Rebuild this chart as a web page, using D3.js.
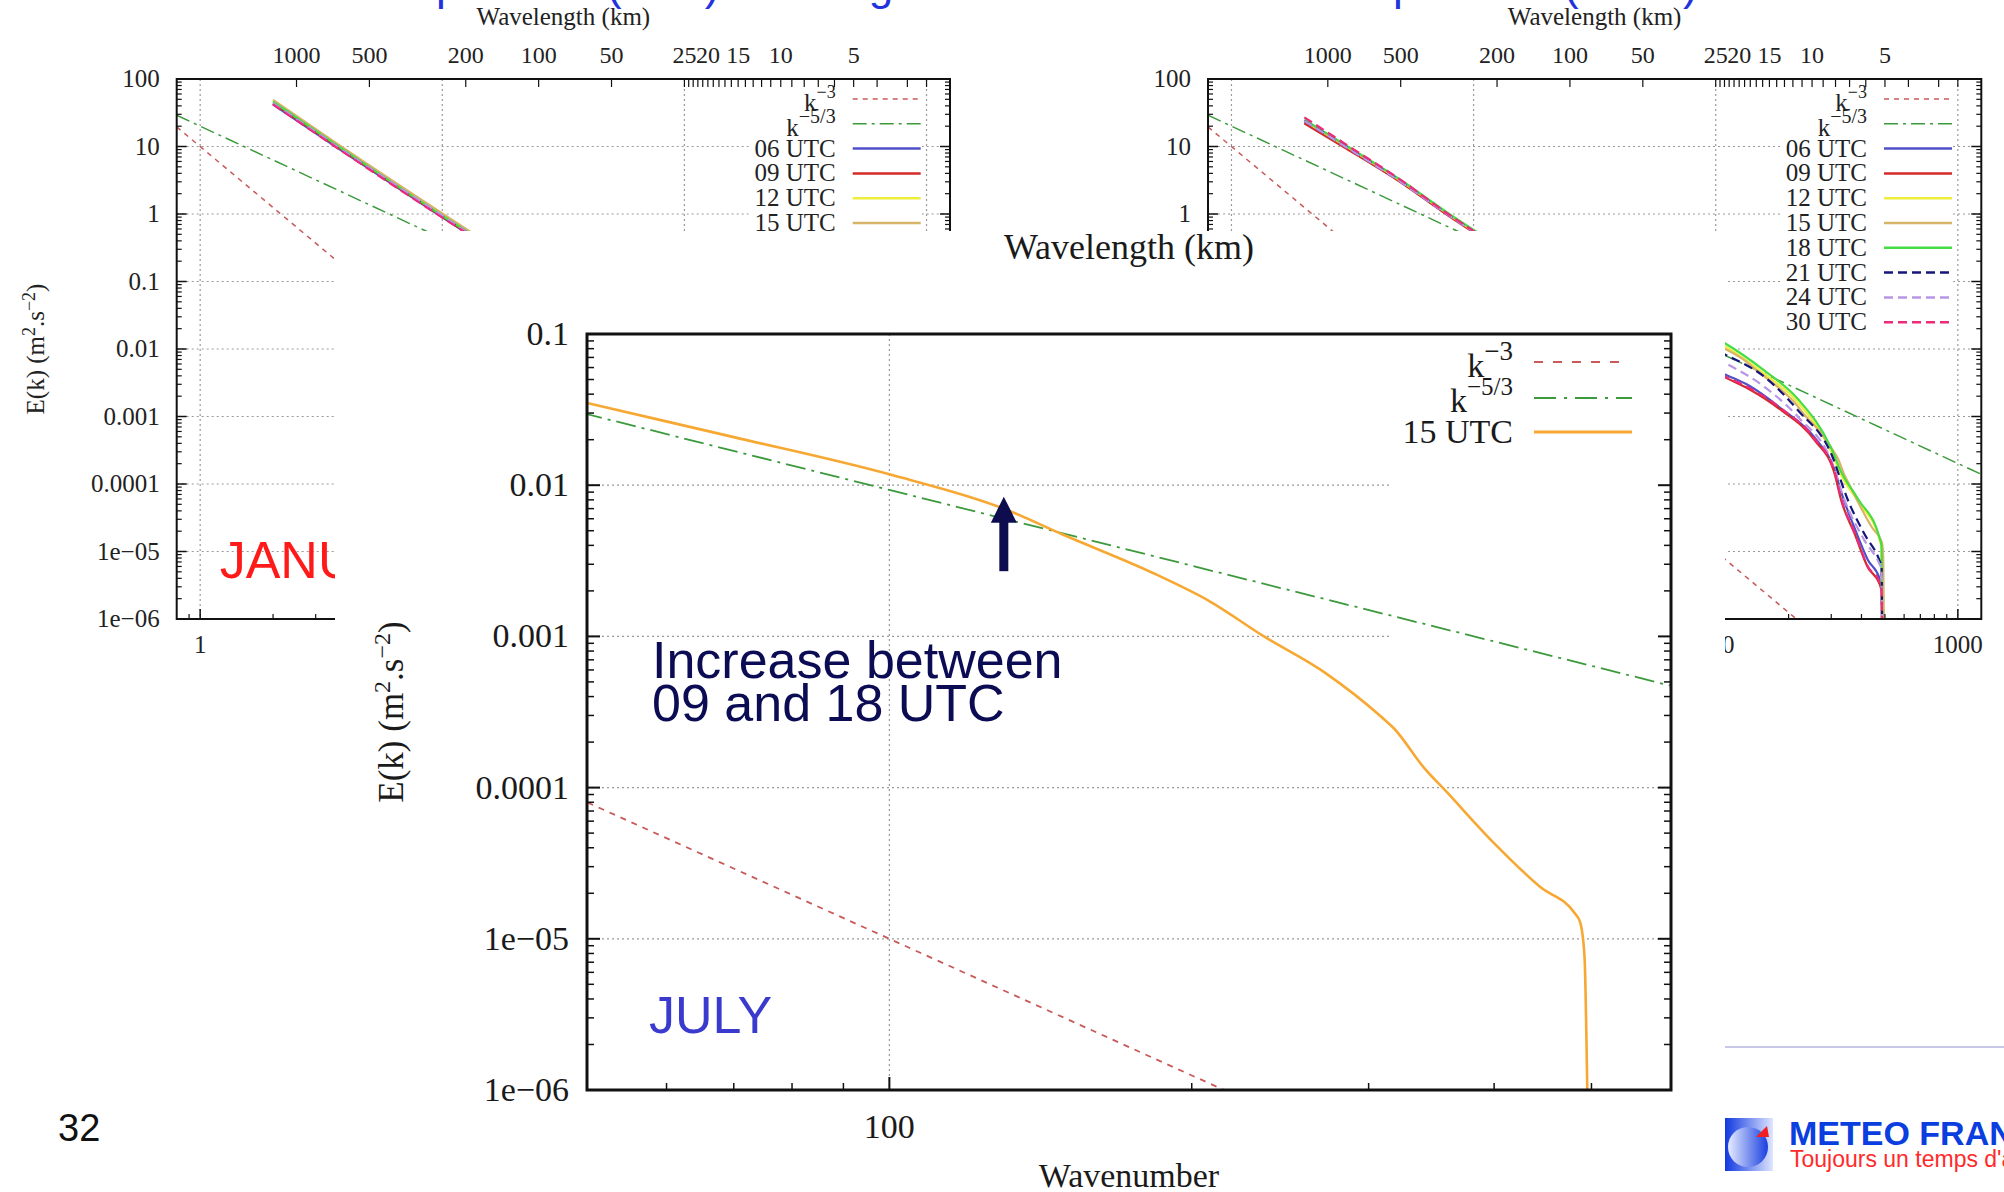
<!DOCTYPE html>
<html>
<head>
<meta charset="utf-8">
<script src="https://cdn.jsdelivr.net/npm/d3@7"></script>
<style>
  html, body { margin: 0; padding: 0; background: #fff; }
  svg { display: block; }
</style>
</head>
<body>
<svg id="slide" width="2004" height="1192"></svg>
<script>
// ---------------- data ----------------
const energyDecades = [1e-6, 1e-5, 1e-4, 1e-3, 1e-2, 1e-1, 1, 10, 100];
const energyDecadeLabels = ["1e−06", "1e−05", "0.0001", "0.001", "0.01", "0.1", "1", "10", "100"];
const panelWavenumbers = [1, 10, 100, 1000];
const panelWavenumberLabels = ["1", "10", "100", "1000"];
const wavelengthMajor = [1000, 500, 200, 100, 50, 25, 20, 15, 10, 5];
const wavelengthMajorLabels = ["1000", "500", "200", "100", "50", "25", "20", "15", "10", "5"];
const wavelengthMinor = [24, 23, 22, 21, 19, 18, 17, 16, 14, 13, 12, 11, 9, 8, 7, 6, 4, 3, 2.5];
const domainLengthKm = 2500;          // wavelength (km) = domainLengthKm / wavenumber
const utcNames = ["06 UTC", "09 UTC", "12 UTC", "15 UTC", "18 UTC", "21 UTC", "24 UTC", "30 UTC"];

// reference slopes, [wavenumber, E(k)]
const slopeMinus3 = [[0.8, 19.5], [100, 1e-5], [1250, 5.1e-9]];
const slopeMinus53 = [[0.8, 29.0], [100, 0.0093], [1250, 1.39e-4]];

// January spectra (large-scale end)
const janK = [2, 3.7, 9.75, 16];
const jan06 = [42, 9.5, 0.95, 0.30];
const jan09 = [44, 9.8, 0.97, 0.30];
const jan12 = [48, 10.5, 1.05, 0.33];
const jan15 = [49, 10.8, 1.08, 0.34];
const jan18 = [46, 10.2, 1.00, 0.32];
const jan21 = [43, 9.7, 0.98, 0.31];
const jan24 = [44, 9.9, 1.00, 0.31];
const jan30 = [42, 9.4, 0.94, 0.30];

// July spectra, [wavenumber, E(k)]
const jul06 = [[2, 23], [3, 9.4], [5, 3.0], [7.85, 0.97], [11, 0.44], [50, 0.022], [107.8, 0.0043], [136.5, 0.0029], [187, 0.0013], [257, 4.8e-4], [310, 1.6e-4], [330, 7.5e-5], [375, 2.2e-5], [425, 7.5e-6], [475, 4.0e-6], [484, 3.0e-6], [487, 5e-7]];
const jul09 = [[2, 22], [3, 9.2], [5, 2.95], [7.85, 0.95], [11, 0.43], [50, 0.021], [107.8, 0.0039], [136.5, 0.00258], [187, 0.00123], [257, 4.4e-4], [310, 1.41e-4], [330, 5.7e-5], [375, 1.82e-5], [425, 5.8e-6], [475, 3.3e-6], [484, 2.6e-6], [487, 5e-7]];
const jul12 = [[2, 24], [3, 9.9], [5, 3.1], [7.85, 1.0], [11, 0.45], [50, 0.034], [107.8, 0.0113], [160, 0.0042], [219, 0.0016], [300, 3.0e-4], [330, 1.35e-4], [387, 5.5e-5], [475, 1.5e-5], [484, 1.1e-5], [487, 5e-7]];
const jul15 = [[2, 24], [3, 9.8], [5, 3.1], [7.85, 1.0], [11, 0.45], [50, 0.035], [70, 0.0208], [100, 0.0118], [130, 0.0070], [149, 0.0047], [185, 0.00254], [208, 0.00172], [236, 0.00100], [272, 0.00057], [309, 2.93e-4], [318, 2.46e-4], [341, 1.34e-4], [358, 9.5e-5], [399, 4.36e-5], [445, 2.19e-5], [481, 1.48e-5], [487, 1.3e-5], [492, 7.8e-6], [496, 5e-7]];
const jul18 = [[2, 25], [3, 10.2], [5, 3.2], [7.85, 1.03], [11, 0.47], [50, 0.037], [107.8, 0.0125], [160, 0.0047], [219, 0.0018], [300, 3.4e-4], [330, 1.5e-4], [387, 6.0e-5], [475, 1.6e-5], [484, 1.2e-5], [487, 5e-7]];
const jul21 = [[2, 24], [3, 9.7], [5, 3.05], [7.85, 0.98], [11, 0.44], [50, 0.028], [107.8, 0.0085], [160, 0.0038], [219, 0.00123], [300, 2.8e-4], [352, 5.7e-5], [412, 1.8e-5], [475, 7.3e-6], [484, 6.0e-6], [487, 5e-7]];
const jul24 = [[2, 24], [3, 9.6], [5, 3.0], [7.85, 0.97], [11, 0.44], [50, 0.025], [107.8, 0.0064], [160, 0.0027], [219, 9.8e-4], [300, 2.2e-4], [341, 5.7e-5], [412, 1.45e-5], [475, 6.5e-6], [484, 5.5e-6], [487, 5e-7]];
const jul30 = [[2, 27], [3, 10.5], [5, 3.2], [7.85, 1.0], [11, 0.45], [50, 0.022], [107.8, 0.0040], [136.5, 0.0027], [187, 0.0013], [257, 4.6e-4], [310, 1.5e-4], [330, 6.0e-5], [375, 1.9e-5], [425, 6.0e-6], [475, 3.5e-6], [484, 2.8e-6], [487, 5e-7]];

// zoomed July 15 UTC chart
const mainEnergyTicks = [0.1, 0.01, 0.001, 0.0001, 1e-5, 1e-6];
const mainEnergyLabels = ["0.1", "0.01", "0.001", "0.0001", "1e−05", "1e−06"];
const mainMajorK = [100];
const mainMajorKLabels = ["100"];
const mainMinorK = [60, 70, 80, 90, 200, 300, 400, 500];
const arrowK = 130, arrowFromE = 0.0027, arrowToE = 0.0084;

// ---------------- styles ----------------
const SERIF = "'Liberation Serif', 'Times New Roman', serif";
const SANS = "'Liberation Sans', Arial, sans-serif";
const utcStyles = [
  { color: "#5050c8", dash: null },
  { color: "#d42a2a", dash: null },
  { color: "#eeee3c", dash: null },
  { color: "#d8b468", dash: null },
  { color: "#44dd44", dash: null },
  { color: "#16167a", dash: "9,5" },
  { color: "#b896e6", dash: "9,5" },
  { color: "#ee2a7a", dash: "9,5" }
];
const slope3Color = "#c85a5a", slope53Color = "#3c9a3c";
const gridStyle = sel => sel.attr("stroke", "#9a9a9a").attr("stroke-width", 1.2).attr("stroke-dasharray", "2,3");

const svg = d3.select("#slide");
const defs = svg.append("defs");

function minorTicks(lo, hi) {
  const out = [];
  for (let d = Math.floor(Math.log10(lo)); d <= Math.ceil(Math.log10(hi)); d++) {
    for (let m = 2; m <= 9; m++) {
      const v = m * Math.pow(10, d);
      if (v > lo && v < hi) out.push(v);
    }
  }
  return out;
}

function supLabel(sel, base, sup, supSize, rise) {
  sel.append("tspan").text(base);
  sel.append("tspan").attr("dy", -rise).attr("font-size", supSize).text(sup);
}

// ---------------- background panels ----------------
function drawPanel(id, offset, seriesLines, monthText, monthColor) {
  const g = svg.append("g");
  const x = d3.scaleLog().domain([0.8, 1250]).range([176.7 + offset, 950 + offset]);
  const y = d3.scaleLog().domain([1e-6, 100]).range([619, 79]);
  const [x0, x1] = x.range();
  const [yb, yt] = y.range();

  // grid
  energyDecades.slice(1, -1).forEach(v => {
    g.append("line").attr("x1", x0).attr("x2", x1).attr("y1", y(v)).attr("y2", y(v)).call(gridStyle);
  });
  panelWavenumbers.forEach(k => {
    g.append("line").attr("x1", x(k)).attr("x2", x(k)).attr("y1", yt).attr("y2", yb).call(gridStyle);
  });

  // key background
  g.append("rect").attr("x", x0 + 572).attr("y", 86).attr("width", 173).attr("height", 250).attr("fill", "#fff");

  // curves
  defs.append("clipPath").attr("id", id).append("rect")
    .attr("x", x0).attr("y", yt).attr("width", x1 - x0).attr("height", yb - yt);
  const plot = g.append("g").attr("clip-path", `url(#${id})`);
  const line = d3.line().x(d => x(d[0])).y(d => y(d[1]));
  plot.append("path").attr("d", line(slopeMinus3)).attr("fill", "none")
    .attr("stroke", slope3Color).attr("stroke-width", 1.5).attr("stroke-dasharray", "5,5");
  plot.append("path").attr("d", line(slopeMinus53)).attr("fill", "none")
    .attr("stroke", slope53Color).attr("stroke-width", 1.5).attr("stroke-dasharray", "14,5,3,5");
  const smooth = d3.line().x(d => x(d[0])).y(d => y(d[1])).curve(d3.curveMonotoneX);
  seriesLines.forEach((pts, i) => {
    plot.append("path").attr("d", smooth(pts)).attr("fill", "none")
      .attr("stroke", utcStyles[i].color).attr("stroke-width", 2.2)
      .attr("stroke-dasharray", utcStyles[i].dash);
  });

  // month label
  g.append("text").attr("x", x0 + 43).attr("y", 578).attr("font-family", SANS).attr("font-size", 52)
    .attr("fill", monthColor).text(monthText);

  // frame
  g.append("rect").attr("x", x0).attr("y", yt).attr("width", x1 - x0).attr("height", yb - yt)
    .attr("fill", "none").attr("stroke", "#111").attr("stroke-width", 2);

  // energy ticks, both sides
  energyDecades.forEach(v => {
    g.append("line").attr("x1", x0).attr("x2", x0 + 10).attr("y1", y(v)).attr("y2", y(v)).attr("stroke", "#111").attr("stroke-width", 1.5);
    g.append("line").attr("x1", x1).attr("x2", x1 - 10).attr("y1", y(v)).attr("y2", y(v)).attr("stroke", "#111").attr("stroke-width", 1.5);
  });
  minorTicks(1e-6, 100).forEach(v => {
    g.append("line").attr("x1", x0).attr("x2", x0 + 5).attr("y1", y(v)).attr("y2", y(v)).attr("stroke", "#111").attr("stroke-width", 1.2);
    g.append("line").attr("x1", x1).attr("x2", x1 - 5).attr("y1", y(v)).attr("y2", y(v)).attr("stroke", "#111").attr("stroke-width", 1.2);
  });
  // wavenumber ticks
  panelWavenumbers.forEach(k => {
    g.append("line").attr("x1", x(k)).attr("x2", x(k)).attr("y1", yb).attr("y2", yb - 10).attr("stroke", "#111").attr("stroke-width", 1.5);
  });
  minorTicks(0.8, 1250).forEach(k => {
    g.append("line").attr("x1", x(k)).attr("x2", x(k)).attr("y1", yb).attr("y2", yb - 5).attr("stroke", "#111").attr("stroke-width", 1.2);
  });
  // wavelength ticks on top
  wavelengthMajor.concat(wavelengthMinor).forEach(l => {
    const xx = x(domainLengthKm / l);
    g.append("line").attr("x1", xx).attr("x2", xx).attr("y1", yt).attr("y2", yt + 8).attr("stroke", "#111").attr("stroke-width", 1.2);
  });

  // tick labels
  energyDecades.forEach((v, i) => {
    g.append("text").attr("x", x0 - 17).attr("y", y(v) + 8).attr("text-anchor", "end")
      .attr("font-family", SERIF).attr("font-size", 25).attr("fill", "#222").text(energyDecadeLabels[i]);
  });
  panelWavenumbers.forEach((k, i) => {
    g.append("text").attr("x", x(k)).attr("y", 653).attr("text-anchor", "middle")
      .attr("font-family", SERIF).attr("font-size", 25).attr("fill", "#222").text(panelWavenumberLabels[i]);
  });
  wavelengthMajor.forEach((l, i) => {
    g.append("text").attr("x", x(domainLengthKm / l)).attr("y", 63).attr("text-anchor", "middle")
      .attr("font-family", SERIF).attr("font-size", 24).attr("fill", "#222").text(wavelengthMajorLabels[i]);
  });
  g.append("text").attr("x", (x0 + x1) / 2).attr("y", 25).attr("text-anchor", "middle")
    .attr("font-family", SERIF).attr("font-size", 25).attr("fill", "#222").text("Wavelength (km)");
  const yl = g.append("text").attr("transform", `translate(${x0 - 133},${(yt + yb) / 2}) rotate(-90)`)
    .attr("text-anchor", "middle").attr("font-family", SERIF).attr("font-size", 25).attr("fill", "#222");
  yl.append("tspan").text("E(k) (m");
  yl.append("tspan").attr("dy", -9).attr("font-size", 18).text("2");
  yl.append("tspan").attr("dy", 9).text(".s");
  yl.append("tspan").attr("dy", -9).attr("font-size", 18).text("−2");
  yl.append("tspan").attr("dy", 9).text(")");

  // key
  const keyRight = x0 + 659, s0 = x0 + 676, s1 = x0 + 744;
  const rowY = i => 99 + i * 24.8;
  const k3 = g.append("text").attr("x", keyRight).attr("y", rowY(0) + 12).attr("text-anchor", "end")
    .attr("font-family", SERIF).attr("font-size", 25).attr("fill", "#222");
  supLabel(k3, "k", "−3", 18, 13);
  const k53 = g.append("text").attr("x", keyRight).attr("y", rowY(1) + 12).attr("text-anchor", "end")
    .attr("font-family", SERIF).attr("font-size", 25).attr("fill", "#222");
  supLabel(k53, "k", "−5/3", 20, 13);
  g.append("line").attr("x1", s0).attr("x2", s1).attr("y1", rowY(0)).attr("y2", rowY(0))
    .attr("stroke", slope3Color).attr("stroke-width", 1.5).attr("stroke-dasharray", "5,5");
  g.append("line").attr("x1", s0).attr("x2", s1).attr("y1", rowY(1)).attr("y2", rowY(1))
    .attr("stroke", slope53Color).attr("stroke-width", 1.5).attr("stroke-dasharray", "14,5,3,5");
  utcNames.forEach((n, i) => {
    g.append("text").attr("x", keyRight).attr("y", rowY(i + 2) + 8).attr("text-anchor", "end")
      .attr("font-family", SERIF).attr("font-size", 25).attr("fill", "#222").text(n);
    g.append("line").attr("x1", s0).attr("x2", s1).attr("y1", rowY(i + 2)).attr("y2", rowY(i + 2))
      .attr("stroke", utcStyles[i].color).attr("stroke-width", 2.5).attr("stroke-dasharray", utcStyles[i].dash);
  });
}

const januaryLines = [jan06, jan09, jan12, jan15, jan18, jan21, jan24, jan30]
  .map(vals => janK.map((k, i) => [k, vals[i]]));
drawPanel("clipJan", 0, januaryLines, "JANUARY", "#ff1a1a");
drawPanel("clipJul", 1031.3, [jul06, jul09, jul12, jul15, jul18, jul21, jul24, jul30], "JULY", "#3a3acf");

// slide title (mostly above the visible area)
svg.append("text").attr("x", 343).attr("y", 0).attr("font-family", SANS).attr("font-size", 44)
  .attr("fill", "#2233dd").text("KE spectrum (JAN) - average");
svg.append("text").attr("x", 1300).attr("y", 0).attr("font-family", SANS).attr("font-size", 44)
  .attr("fill", "#2233dd").text("KE spectrum (JULY)");

// ---------------- zoomed chart on top ----------------
svg.append("rect").attr("x", 335).attr("y", 231).attr("width", 1390).attr("height", 961).attr("fill", "#fff");

const mx = d3.scaleLog().domain([50, 600]).range([587, 1671]);
const my = d3.scaleLog().domain([1e-6, 0.1]).range([1090, 334]);
const [mx0, mx1] = mx.range();
const [myb, myt] = my.range();
const main = svg.append("g");

// grid
[0.01, 0.001].forEach(v => {
  main.append("line").attr("x1", mx0).attr("x2", 1390).attr("y1", my(v)).attr("y2", my(v)).call(gridStyle);
});
[0.0001, 1e-5].forEach(v => {
  main.append("line").attr("x1", mx0).attr("x2", mx1).attr("y1", my(v)).attr("y2", my(v)).call(gridStyle);
});
mainMajorK.forEach(k => {
  main.append("line").attr("x1", mx(k)).attr("x2", mx(k)).attr("y1", myt).attr("y2", myb).call(gridStyle);
});

// lines
defs.append("clipPath").attr("id", "clipMain").append("rect")
  .attr("x", mx0).attr("y", myt).attr("width", mx1 - mx0).attr("height", myb - myt);
const mplot = main.append("g").attr("clip-path", "url(#clipMain)");
const mline = d3.line().x(d => mx(d[0])).y(d => my(d[1]));
mplot.append("path").attr("d", mline(slopeMinus3)).attr("fill", "none")
  .attr("stroke", slope3Color).attr("stroke-width", 1.8).attr("stroke-dasharray", "6,6");
mplot.append("path").attr("d", mline(slopeMinus53)).attr("fill", "none")
  .attr("stroke", slope53Color).attr("stroke-width", 1.8).attr("stroke-dasharray", "20,6,3,6");
const msmooth = d3.line().x(d => mx(d[0])).y(d => my(d[1])).curve(d3.curveMonotoneX);
mplot.append("path").attr("d", msmooth(jul15)).attr("fill", "none")
  .attr("stroke", "#f7a832").attr("stroke-width", 2.6);

// frame
main.append("rect").attr("x", mx0).attr("y", myt).attr("width", mx1 - mx0).attr("height", myb - myt)
  .attr("fill", "none").attr("stroke", "#111").attr("stroke-width", 3);

// ticks
mainEnergyTicks.forEach(v => {
  main.append("line").attr("x1", mx0).attr("x2", mx0 + 13).attr("y1", my(v)).attr("y2", my(v)).attr("stroke", "#111").attr("stroke-width", 2);
  main.append("line").attr("x1", mx1).attr("x2", mx1 - 13).attr("y1", my(v)).attr("y2", my(v)).attr("stroke", "#111").attr("stroke-width", 2);
});
minorTicks(1e-6, 0.1).forEach(v => {
  main.append("line").attr("x1", mx0).attr("x2", mx0 + 7).attr("y1", my(v)).attr("y2", my(v)).attr("stroke", "#111").attr("stroke-width", 1.5);
  main.append("line").attr("x1", mx1).attr("x2", mx1 - 7).attr("y1", my(v)).attr("y2", my(v)).attr("stroke", "#111").attr("stroke-width", 1.5);
});
mainMajorK.forEach(k => {
  main.append("line").attr("x1", mx(k)).attr("x2", mx(k)).attr("y1", myb).attr("y2", myb - 13).attr("stroke", "#111").attr("stroke-width", 2);
});
mainMinorK.forEach(k => {
  main.append("line").attr("x1", mx(k)).attr("x2", mx(k)).attr("y1", myb).attr("y2", myb - 7).attr("stroke", "#111").attr("stroke-width", 1.5);
});

// tick labels and titles
mainEnergyTicks.forEach((v, i) => {
  main.append("text").attr("x", 569).attr("y", my(v) + 11).attr("text-anchor", "end")
    .attr("font-family", SERIF).attr("font-size", 34).attr("fill", "#1a1a1a").text(mainEnergyLabels[i]);
});
mainMajorK.forEach((k, i) => {
  main.append("text").attr("x", mx(k)).attr("y", 1138).attr("text-anchor", "middle")
    .attr("font-family", SERIF).attr("font-size", 34).attr("fill", "#1a1a1a").text(mainMajorKLabels[i]);
});
main.append("text").attr("x", (mx0 + mx1) / 2).attr("y", 1187).attr("text-anchor", "middle")
  .attr("font-family", SERIF).attr("font-size", 34).attr("fill", "#1a1a1a").text("Wavenumber");
main.append("text").attr("x", (mx0 + mx1) / 2).attr("y", 259).attr("text-anchor", "middle")
  .attr("font-family", SERIF).attr("font-size", 36).attr("fill", "#1a1a1a").text("Wavelength (km)");
const myl = main.append("text").attr("transform", `translate(403,${(myt + myb) / 2}) rotate(-90)`)
  .attr("text-anchor", "middle").attr("font-family", SERIF).attr("font-size", 35).attr("fill", "#1a1a1a");
myl.append("tspan").text("E(k) (m");
myl.append("tspan").attr("dy", -13).attr("font-size", 24).text("2");
myl.append("tspan").attr("dy", 13).text(".s");
myl.append("tspan").attr("dy", -13).attr("font-size", 24).text("−2");
myl.append("tspan").attr("dy", 13).text(")");

// key
const mkRight = 1513, ms0 = 1534, ms1 = 1632;
const mk3 = main.append("text").attr("x", mkRight).attr("y", 377).attr("text-anchor", "end")
  .attr("font-family", SERIF).attr("font-size", 34).attr("fill", "#1a1a1a");
supLabel(mk3, "k", "−3", 27, 17);
const mk53 = main.append("text").attr("x", mkRight).attr("y", 412).attr("text-anchor", "end")
  .attr("font-family", SERIF).attr("font-size", 34).attr("fill", "#1a1a1a");
supLabel(mk53, "k", "−5/3", 25, 17);
main.append("text").attr("x", mkRight).attr("y", 443).attr("text-anchor", "end")
  .attr("font-family", SERIF).attr("font-size", 34).attr("fill", "#1a1a1a").text("15 UTC");
main.append("line").attr("x1", ms0).attr("x2", 1621).attr("y1", 362).attr("y2", 362)
  .attr("stroke", slope3Color).attr("stroke-width", 1.8).attr("stroke-dasharray", "9,10");
main.append("line").attr("x1", ms0).attr("x2", ms1).attr("y1", 398).attr("y2", 398)
  .attr("stroke", slope53Color).attr("stroke-width", 2).attr("stroke-dasharray", "22,8,3,8");
main.append("line").attr("x1", ms0).attr("x2", ms1).attr("y1", 432).attr("y2", 432)
  .attr("stroke", "#f7a832").attr("stroke-width", 2.8);

// arrow marking the growth of the 15 UTC spectrum
const ax = mx(arrowK), ayTip = my(arrowToE), ayTail = my(arrowFromE);
main.append("rect").attr("x", ax - 4.5).attr("y", ayTip + 24).attr("width", 9).attr("height", ayTail - ayTip - 24)
  .attr("fill", "#0c0c4e");
main.append("path").attr("d", `M${ax},${ayTip} L${ax + 13},${ayTip + 26} L${ax - 13},${ayTip + 26} Z`)
  .attr("fill", "#0c0c4e");

main.append("text").attr("x", 652).attr("y", 678).attr("font-family", SANS).attr("font-size", 52)
  .attr("fill", "#0c0c55").text("Increase between");
main.append("text").attr("x", 652).attr("y", 721).attr("font-family", SANS).attr("font-size", 52)
  .attr("fill", "#0c0c55").text("09 and 18 UTC");
main.append("text").attr("x", 649).attr("y", 1033).attr("font-family", SANS).attr("font-size", 52)
  .attr("fill", "#3a3acf").text("JULY");

// ---------------- slide furniture ----------------
svg.append("text").attr("x", 58).attr("y", 1141).attr("font-family", SANS).attr("font-size", 38)
  .attr("fill", "#111").text("32");
svg.append("line").attr("x1", 1725).attr("x2", 2004).attr("y1", 1047).attr("y2", 1047)
  .attr("stroke", "#c8c8e6").attr("stroke-width", 2);

const sq = defs.append("linearGradient").attr("id", "logoSquare").attr("x1", 0).attr("x2", 1).attr("y1", 0).attr("y2", 0);
sq.append("stop").attr("offset", 0).attr("stop-color", "#1038e0");
sq.append("stop").attr("offset", 1).attr("stop-color", "#dfe6ff");
const ball = defs.append("linearGradient").attr("id", "logoBall").attr("x1", 0).attr("x2", 1).attr("y1", 0).attr("y2", 0);
ball.append("stop").attr("offset", 0).attr("stop-color", "#e6ecff");
ball.append("stop").attr("offset", 1).attr("stop-color", "#1a40e0");
svg.append("rect").attr("x", 1725).attr("y", 1118).attr("width", 48).attr("height", 53).attr("fill", "url(#logoSquare)");
svg.append("circle").attr("cx", 1748).attr("cy", 1147).attr("r", 20).attr("fill", "url(#logoBall)");
svg.append("path").attr("d", "M1756,1137 L1767,1126 L1769,1137 Z").attr("fill", "#f02020");
svg.append("text").attr("x", 1789).attr("y", 1145).attr("font-family", SANS).attr("font-weight", "bold")
  .attr("font-size", 34).attr("fill", "#0a3ede").text("METEO FRANCE");
svg.append("text").attr("x", 1790).attr("y", 1167).attr("font-family", SANS)
  .attr("font-size", 23).attr("fill", "#ff2a2a").text("Toujours un temps d'avance");
</script>
</body>
</html>
